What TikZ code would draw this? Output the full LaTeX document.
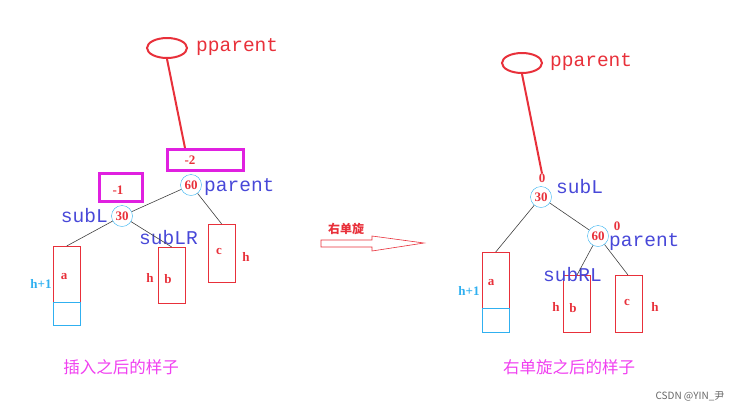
\documentclass[tikz,border=0pt]{standalone}
\usepackage{fontspec}
\usetikzlibrary{shapes.geometric}
\newfontfamily\cjk{Noto Sans CJK SC}
\newfontfamily\serf{Liberation Serif}
\newfontfamily\mono{Liberation Mono}
\definecolor{rd}{HTML}{E8303A}
\definecolor{bl}{HTML}{4848D8}
\definecolor{cy}{HTML}{30B0F0}
\definecolor{mg}{HTML}{E020E0}
\definecolor{mgt}{HTML}{F040F0}
\begin{document}
\begin{tikzpicture}[x=1pt,y=-1pt,
  circ/.style={draw=cy,circle,minimum size=21pt,inner sep=0pt,text=rd,font=\serf\bfseries\fontsize{13}{13}\selectfont},
  sub/.style={draw=rd,minimum width=27pt,anchor=north west,inner sep=0pt},
  cyb/.style={draw=cy,minimum width=27pt,minimum height=23pt,anchor=north west,inner sep=0pt},
  lbl/.style={text=bl,font=\mono\fontsize{19.5}{19.5}\selectfont,inner sep=0pt},
  pp/.style={text=rd,font=\mono\fontsize{19.5}{19.5}\selectfont,inner sep=0pt,anchor=west},
  sm/.style={text=rd,font=\serf\bfseries\fontsize{13}{13}\selectfont,inner sep=0pt},
  bf/.style={draw=mg,line width=2.5pt,anchor=north west,inner sep=0pt},
  edge/.style={draw=black!75,line width=0.6pt},
  ptr/.style={draw=rd,line width=2pt}]
\useasboundingbox (0,0) rectangle (754,413);
% left
\node[draw=rd,line width=2pt,ellipse,minimum width=40pt,minimum height=20pt] (e1) at (167,48) {};
\node[pp] (pp1) at (196,47) {pparent};
\node[bf,minimum width=76pt,minimum height=21pt] (m2) at (166,148) {};
\node[sm] (t2) at (190,160) {-2};
\draw[ptr] (e1.south) -- (m2.north -| 185,0);
\node[bf,minimum width=43pt,minimum height=28pt] (m1) at (98,172) {};
\node[sm] (t1) at (118,190) {-1};
\node[circ] (n60) at (191,185) {60};
\node[lbl,anchor=west] (par1) at (204,187) {parent};
\node[circ] (n30) at (122,216) {30};
\node[lbl,anchor=east] (sl1) at (108,216) {subL};
\node[sub,minimum height=56pt] (a1) at (53,246) {};
\node[cyb] (ca1) at (53,302) {};
\node[sub,minimum height=56pt] (b1) at (158,247) {};
\node[sub,minimum height=58pt] (c1) at (208,224) {};
\node[sm] at (64,277) {a};
\node[sm] at (168,279) {b};
\node[sm] at (219,251) {c};
\node[sm] at (246,257) {h};
\node[sm] at (150,278) {h};
\node[sm,text=cy] at (41,284) {h+1};
\node[lbl,anchor=west] (slr) at (139,238) {subLR};
\draw[edge] (n60) -- (n30);
\draw[edge] (n60) -- (c1.north);
\draw[edge] (n30) -- (a1.north);
\draw[edge] (n30) -- (b1.north);
% arrow
\node[text=rd,font=\cjk\bfseries\fontsize{12}{12}\selectfont,inner sep=0pt] (al) at (346,229) {右单旋};
\draw[rd,line width=0.6pt] (321,240) -- (372,240) -- (372,236) -- (424,243) -- (372,251) -- (372,247) -- (321,247) -- cycle;
% right
\node[draw=rd,line width=2pt,ellipse,minimum width=40pt,minimum height=20pt] (e2) at (522,63) {};
\node[pp] (pp2) at (550,62) {pparent};
\node[sm] (z1) at (542,178) {0};
\draw[ptr] (e2.south) -- (z1.north);
\node[circ] (r30) at (541,197) {30};
\node[lbl,anchor=west] (sl2) at (556,187) {subL};
\node[circ] (r60) at (598,236) {60};
\node[sm] (z2) at (617,226) {0};
\node[lbl,anchor=west] (par2) at (609,242) {parent};
\node[sub,minimum height=56pt] (a2) at (482,252) {};
\node[cyb,minimum height=24pt] (ca2) at (482,308) {};
\node[sub,minimum height=57pt] (b2) at (563,275) {};
\node[sub,minimum height=57pt] (c2) at (615,275) {};
\node[sm] at (491,283) {a};
\node[sm] at (573,308) {b};
\node[sm] at (627,302) {c};
\node[sm] at (556,307) {h};
\node[sm] at (655,307) {h};
\node[sm,text=cy] at (469,291) {h+1};
\node[lbl,anchor=west] (srl) at (543,275) {subRL};
\draw[edge] (r30) -- (r60);
\draw[edge] (r30) -- (a2.north);
\draw[edge] (r60) -- (577,275);
\draw[edge] (r60) -- (628,275);
% captions
\node[text=mgt,font=\cjk\fontsize{16.5}{16.5}\selectfont] (cap1) at (121,367) {插入之后的样子};
\node[text=mgt,font=\cjk\fontsize{16.5}{16.5}\selectfont] (cap2) at (569,367) {右单旋之后的样子};
\node[text=black!60,font=\cjk\fontsize{10}{10}\selectfont] (csdn) at (690,396) {CSDN @YIN\_尹};
\end{tikzpicture}
\end{document}
